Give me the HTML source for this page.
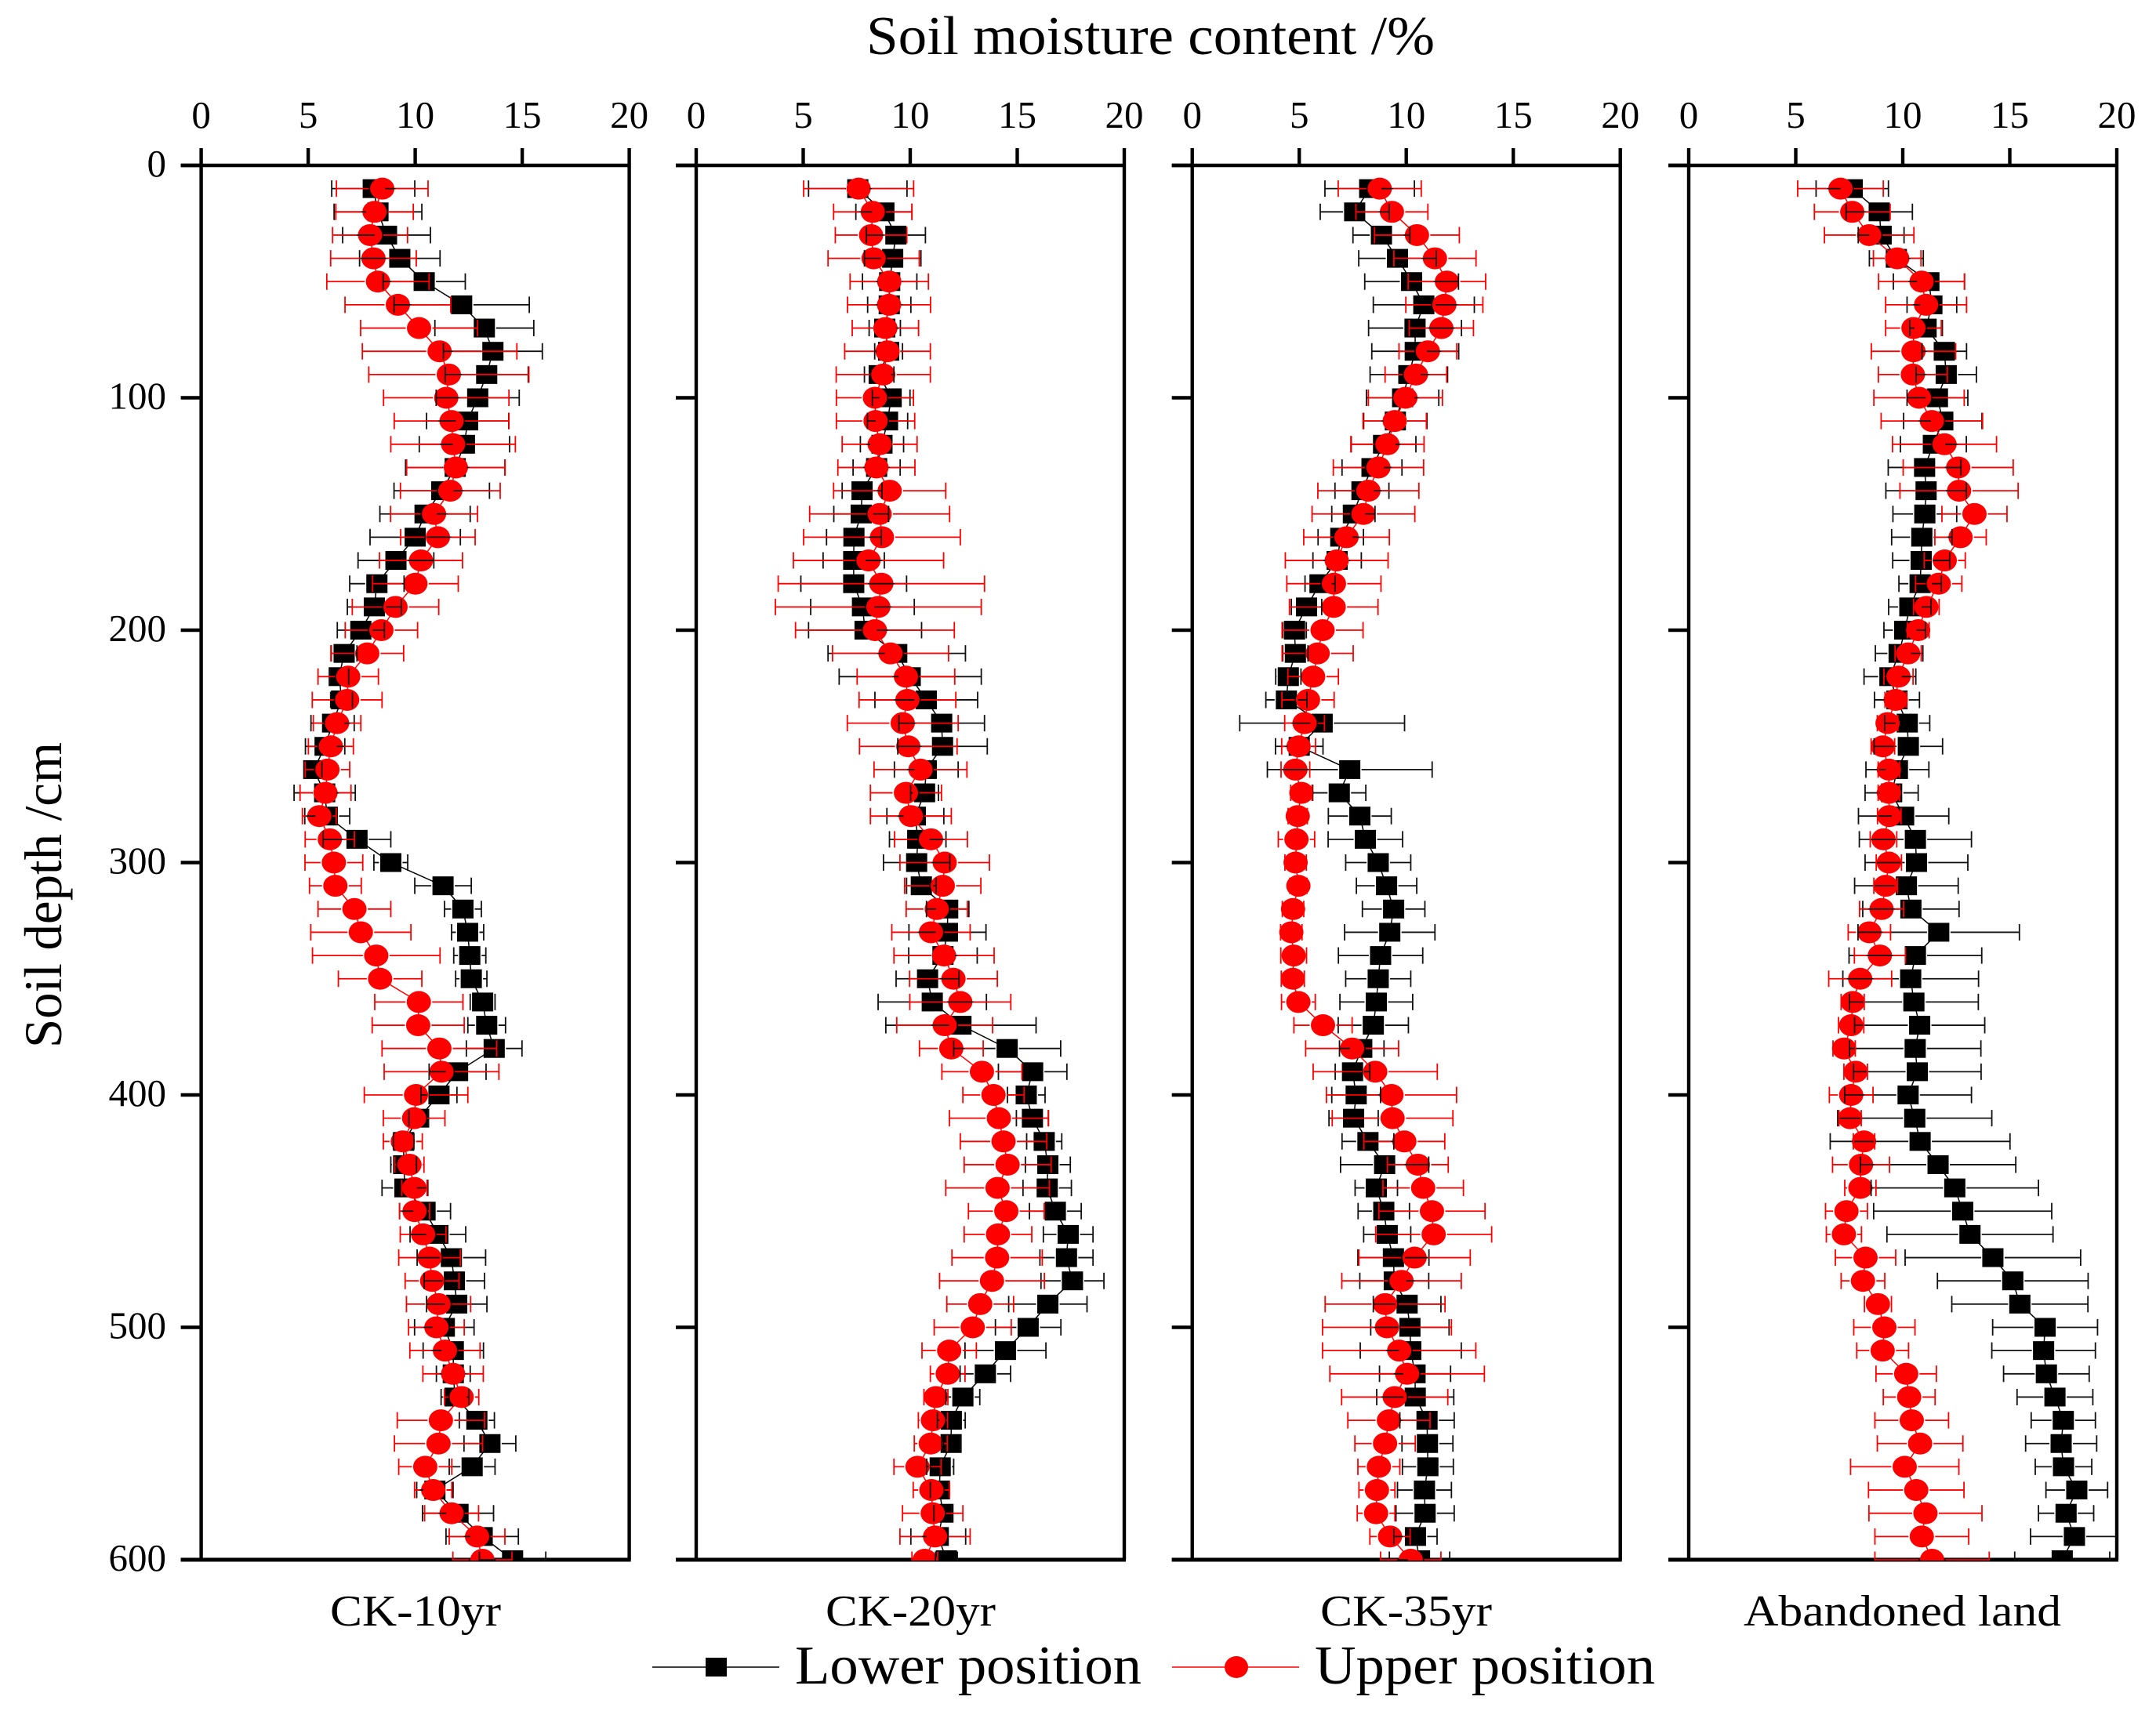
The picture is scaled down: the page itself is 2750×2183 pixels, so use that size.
<!DOCTYPE html>
<html lang="en">
<head>
<meta charset="utf-8">
<title>Soil moisture content by depth</title>
<style>
html,body{margin:0;padding:0;background:#fff;}
svg{display:block;}
text{font-family:"Liberation Serif",serif;fill:#000;}
</style>
</head>
<body>
<svg id="chart" xmlns="http://www.w3.org/2000/svg" width="2750" height="2183" viewBox="0 0 2750 2183">
<rect x="0" y="0" width="2750" height="2183" fill="#fff"/>
<text x="1105" y="69" font-size="70" textLength="725" lengthAdjust="spacingAndGlyphs">Soil moisture content /%</text>
<text transform="translate(78,1337) rotate(-90)" x="0" y="0" font-size="68" textLength="390" lengthAdjust="spacingAndGlyphs">Soil depth /cm</text>
<text x="421" y="2074" font-size="56" textLength="218" lengthAdjust="spacingAndGlyphs">CK-10yr</text>
<text x="1053" y="2074" font-size="56" textLength="217" lengthAdjust="spacingAndGlyphs">CK-20yr</text>
<text x="1684" y="2074" font-size="56" textLength="219" lengthAdjust="spacingAndGlyphs">CK-35yr</text>
<text x="2224" y="2074" font-size="56" textLength="405" lengthAdjust="spacingAndGlyphs">Abandoned land</text>
<g>
<g>
<line x1="832" y1="2127" x2="994" y2="2127" stroke="#000" stroke-width="1.6"/>
<rect x="900" y="2115" width="27" height="24" fill="#000"/>
<text x="1014" y="2148" font-size="70" textLength="442" lengthAdjust="spacingAndGlyphs">Lower position</text>
</g>
<g>
<line x1="1495" y1="2127" x2="1657" y2="2127" stroke="#f00" stroke-width="1.6"/>
<ellipse cx="1577" cy="2127" rx="15" ry="14" fill="#f00"/>
<text x="1677" y="2148" font-size="70" textLength="434" lengthAdjust="spacingAndGlyphs">Upper position</text>
</g>
</g>
<g id="plots"></g>
</svg>
<script>
const depths = [10,20,30,40,50,60,70,80,90,100,110,120,130,140,150,160,170,180,190,200,210,220,230,240,250,260,270,280,290,300,310,320,330,340,350,360,370,380,390,400,410,420,430,440,450,460,470,480,490,500,510,520,530,540,550,560,570,580,590,600];
const xTickLabels = [0,5,10,15,20];
const yTickLabels = [0,100,200,300,400,500,600];
const panelNames = ["ck-10yr","ck-20yr","ck-35yr","abandoned-land"];

const ck10LowerMean = [8.04,8.26,8.66,9.28,10.42,12.17,13.23,13.63,13.34,12.92,
12.45,12.30,11.87,11.24,10.46,10.00,9.10,8.21,8.09,7.46,
6.68,6.45,6.56,6.14,5.79,5.26,5.77,5.89,7.28,8.86,
11.30,12.23,12.45,12.55,12.62,13.15,13.34,13.69,11.98,11.11,
10.16,9.46,9.46,9.52,10.46,11.06,11.69,11.83,11.94,11.36,
11.78,11.78,11.86,12.88,13.49,12.66,10.92,12.00,13.13,14.55];
const ck10LowerSd = [1.94,2.05,2.05,1.88,1.92,3.16,2.31,2.31,1.94,1.94,
1.92,2.11,2.32,2.23,2.11,2.11,1.77,1.27,1.26,1.10,
0.60,0.44,0.51,1.01,0.92,0.38,1.43,1.05,1.58,0.79,
1.32,0.86,0.75,0.75,0.73,0.58,0.88,1.30,1.33,0.84,
0.45,0.48,0.60,1.07,1.19,1.30,1.60,1.41,1.41,1.39,
1.41,0.79,0.65,0.82,1.21,1.07,0.85,1.66,1.69,1.55];
const ck10UpperMean = [8.46,8.10,7.89,8.05,8.26,9.19,10.18,11.14,11.57,11.45,
11.70,11.77,11.90,11.64,10.88,11.06,10.27,10.01,9.08,8.42,
7.76,6.87,6.82,6.35,6.06,5.90,5.81,5.52,6.01,6.20,
6.27,7.16,7.46,8.18,8.36,10.17,10.14,11.13,11.23,10.04,
9.95,9.42,9.73,9.96,9.97,10.37,10.67,10.79,11.09,10.99,
11.39,11.77,12.17,11.20,11.09,10.47,10.84,11.70,12.89,13.14];
const ck10UpperSd = [2.14,1.81,1.75,2.00,2.39,2.47,2.73,3.61,3.74,2.93,
2.68,2.91,2.30,2.33,2.03,1.74,1.94,2.00,2.02,1.69,
1.70,1.41,1.63,1.11,1.05,1.04,1.19,0.79,1.15,1.35,
1.21,1.70,2.34,2.98,1.95,2.06,2.15,2.68,2.68,2.42,
1.44,0.91,0.68,0.59,0.70,1.07,1.44,1.26,1.50,1.30,
1.64,1.41,0.80,2.04,2.06,1.24,0.87,1.26,1.30,1.38];

const ck20LowerMean = [7.55,8.77,9.33,9.18,9.04,9.02,8.81,8.99,8.55,9.11,
8.94,8.68,8.43,7.75,7.71,7.37,7.36,7.36,7.77,7.89,
9.37,10.00,10.75,11.47,11.51,10.75,10.67,10.24,10.35,10.30,
10.52,11.75,11.74,11.53,10.81,11.03,12.37,14.53,15.72,15.42,
15.71,16.26,16.43,16.40,16.78,17.38,17.30,17.58,16.43,15.51,
14.45,13.51,12.46,11.92,11.91,11.40,11.36,11.53,11.31,11.69];
const ck20LowerSd = [2.30,1.31,1.38,1.32,1.27,1.01,0.73,0.65,0.69,0.88,
0.94,1.01,1.10,0.93,1.28,1.28,1.43,2.47,2.42,2.64,
3.21,3.32,2.40,2.00,2.09,1.49,0.65,1.33,1.32,1.55,
0.69,0.99,1.80,1.60,1.47,2.53,3.51,2.50,1.60,0.88,
0.75,0.82,1.05,1.13,1.21,1.16,1.24,1.47,1.83,1.53,
1.89,1.18,0.79,0.65,0.43,0.63,0.42,0.42,1.28,0.51];
const ck20UpperMean = [7.59,8.25,8.17,8.29,9.02,9.01,8.84,8.94,8.74,8.35,
8.38,8.57,8.42,9.04,8.57,8.68,8.05,8.65,8.51,8.35,
9.08,9.80,9.87,9.65,9.91,10.48,9.80,10.03,10.97,11.61,
11.52,11.24,10.97,11.58,12.02,12.34,11.61,11.92,13.35,13.89,
14.14,14.36,14.55,14.08,14.49,14.10,14.06,13.82,13.27,12.92,
11.82,11.75,11.20,11.06,10.96,10.34,10.99,11.05,11.16,10.68];
const ck20UpperSd = [2.57,1.83,1.67,2.13,1.83,1.94,1.55,2.00,2.20,1.80,
1.83,1.75,1.80,2.62,3.27,3.66,3.51,4.82,4.81,3.71,
2.71,2.28,2.26,2.59,2.28,2.17,1.66,1.89,1.70,2.09,
1.78,1.43,1.83,2.34,2.05,2.36,2.24,1.49,1.87,1.43,
2.31,2.02,2.03,2.42,1.77,1.58,2.11,2.45,1.56,1.80,
1.27,0.81,0.56,0.68,0.77,1.10,0.85,1.41,1.64,0.60];

const ck35LowerMean = [8.29,7.59,8.84,9.59,10.25,10.82,10.41,10.42,10.12,9.83,
9.49,8.94,8.40,7.93,7.53,6.94,6.77,5.97,5.34,4.78,
4.82,4.49,4.40,6.07,5.00,7.36,6.87,7.83,8.09,8.69,
9.08,9.41,9.23,8.80,8.69,8.60,8.46,7.92,7.49,7.66,
7.54,8.21,8.99,8.60,8.95,9.11,9.40,9.44,10.04,10.17,
10.21,10.41,10.42,10.97,10.99,11.01,10.85,10.88,10.43,10.62];
const ck35LowerSd = [2.09,1.61,1.33,1.81,2.19,2.36,2.17,2.03,1.81,1.69,
1.48,1.51,1.40,1.26,1.01,1.06,1.13,0.70,0.71,0.55,
0.59,0.59,0.96,3.85,1.11,3.85,1.24,1.47,1.74,1.52,
1.41,1.46,2.11,1.97,1.52,1.70,1.64,1.04,0.81,1.14,
1.15,1.21,2.06,0.99,1.20,1.10,1.66,1.61,1.58,1.83,
2.36,1.66,1.80,1.27,1.19,1.19,1.26,1.36,1.01,1.41];
const ck35UpperMean = [8.76,9.33,10.50,11.34,11.90,11.78,11.64,11.01,10.45,9.96,
9.46,9.12,8.70,8.23,8.00,7.21,6.75,6.62,6.61,6.09,
5.86,5.65,5.41,5.25,4.97,4.82,5.10,4.93,4.87,4.83,
4.96,4.71,4.63,4.74,4.70,4.96,6.11,7.47,8.55,9.31,
9.36,9.91,10.54,10.79,11.20,11.28,10.39,9.78,9.01,9.10,
9.67,10.04,9.46,9.19,9.01,8.72,8.63,8.59,9.24,10.21];
const ck35UpperSd = [1.94,1.68,1.98,1.92,1.81,1.80,1.50,1.35,1.44,1.73,
1.48,1.71,2.11,2.36,2.40,2.00,2.40,2.20,2.07,1.89,
1.66,1.18,1.22,0.93,0.79,0.67,0.50,0.45,0.85,0.50,
0.40,0.50,0.50,0.60,0.54,0.79,1.36,2.17,2.90,3.04,
2.82,1.89,1.42,1.88,2.48,2.71,2.60,2.79,2.80,3.01,
3.58,3.61,2.48,1.92,1.41,0.98,0.84,0.88,0.94,1.41];

const abandonedLowerMean = [7.64,8.90,8.99,9.70,11.22,11.36,11.09,11.94,12.03,11.62,
11.87,11.43,11.02,11.09,11.03,10.89,10.86,10.81,10.33,10.09,
9.83,9.40,9.73,10.21,10.26,9.75,9.48,10.04,10.59,10.64,
10.17,10.38,11.68,10.59,10.37,10.52,10.79,10.58,10.68,10.25,
10.56,10.81,11.65,12.43,12.80,13.14,14.21,15.14,15.47,16.65,
16.58,16.71,17.11,17.50,17.40,17.51,18.13,17.63,18.02,17.45];
const abandonedLowerSd = [1.69,1.55,1.07,1.26,1.66,1.16,0.76,1.04,1.41,1.42,
1.83,1.54,1.70,1.88,1.49,1.41,1.33,0.99,0.99,0.97,
1.11,1.21,1.05,1.05,1.60,1.47,1.24,2.11,2.62,2.40,
2.42,2.25,3.77,3.10,3.17,3.01,3.04,3.07,2.98,2.96,
3.60,4.20,3.63,3.91,4.16,3.88,4.10,3.52,3.18,2.45,
2.42,2.00,1.77,1.50,1.66,1.32,1.44,1.29,2.05,2.22];
const abandonedUpperMean = [7.09,7.64,8.43,9.74,10.88,11.09,10.50,10.50,10.47,10.76,
11.36,11.95,12.59,12.63,13.35,12.70,11.96,11.68,11.10,10.72,
10.25,9.80,9.67,9.29,9.07,9.35,9.35,9.37,9.10,9.35,
9.20,9.01,8.44,8.93,8.01,7.66,7.59,7.26,7.80,7.59,
7.54,8.19,8.05,8.02,7.37,7.25,8.26,8.14,8.84,9.14,
9.06,10.16,10.30,10.42,10.81,10.09,10.63,11.06,10.89,11.37];
const abandonedUpperSd = [2.00,1.77,2.09,1.11,2.01,1.89,1.30,1.97,1.61,2.11,
2.37,2.43,2.57,2.76,1.52,1.20,0.96,1.08,0.60,0.51,
0.61,0.68,0.50,0.48,0.55,0.50,0.50,0.55,0.62,0.59,
0.55,1.03,0.99,1.19,1.47,0.54,0.59,0.52,0.55,1.02,
0.52,0.50,1.33,0.73,0.98,0.82,1.41,1.02,0.63,1.43,
1.21,1.41,1.21,1.72,2.00,2.53,2.23,2.64,2.19,2.67];

const lowerMeans = [ck10LowerMean, ck20LowerMean, ck35LowerMean, abandonedLowerMean];
const lowerSds = [ck10LowerSd, ck20LowerSd, ck35LowerSd, abandonedLowerSd];
const upperMeans = [ck10UpperMean, ck20UpperMean, ck35UpperMean, abandonedUpperMean];
const upperSds = [ck10UpperSd, ck20UpperSd, ck35UpperSd, abandonedUpperSd];

const NS = "http://www.w3.org/2000/svg";
const plots = document.getElementById("plots");
const PANEL_LEFT = [256.6, 888, 1520.7, 2154];
const PANEL_WIDTH = 546;
const Y_TOP = 211;
const Y_BOTTOM = 1990;
const X_MAX = 20;
const Y_MAX = 600;

function xScale(panel, v) { return PANEL_LEFT[panel] + v / X_MAX * PANEL_WIDTH; }
function yScale(d) { return Y_TOP + d / Y_MAX * (Y_BOTTOM - Y_TOP); }

function make(parent, tag, attrs) {
  const el = document.createElementNS(NS, tag);
  for (const k in attrs) el.setAttribute(k, attrs[k]);
  parent.appendChild(el);
  return el;
}

const defs = make(plots, "defs", {});
PANEL_LEFT.forEach(function (left, p) {
  const cp = make(defs, "clipPath", { id: "clip-" + p });
  make(cp, "rect", { x: left - 30, y: Y_TOP, width: PANEL_WIDTH + 30, height: Y_BOTTOM - Y_TOP + 1 });
});

function drawAxes(group, p) {
  const left = PANEL_LEFT[p];
  const right = left + PANEL_WIDTH;
  const axisGroup = make(group, "g", { stroke: "#000", "stroke-width": 4.4 });
  
  
  const top = make(axisGroup, "line", { x1: left - 26, y1: Y_TOP, x2: right + 2, y2: Y_TOP });
  
  
  const bottom = make(axisGroup, "line", { x1: left - 26, y1: Y_BOTTOM, x2: right + 2, y2: Y_BOTTOM, "stroke-width": 5 });
  
  
  const leftLine = make(axisGroup, "line", { x1: left, y1: Y_TOP, x2: left, y2: Y_BOTTOM });
  
  
  const rightLine = make(axisGroup, "line", { x1: right, y1: Y_TOP, x2: right, y2: Y_BOTTOM });
  
  

  xTickLabels.forEach(function (t) {
    const x = xScale(p, t);
    const tick = make(axisGroup, "line", { x1: x, y1: Y_TOP - 22, x2: x, y2: Y_TOP });
    
    
    const label = make(group, "text", { x: x, y: 163, "font-size": 49, "text-anchor": "middle" });
    
    
    label.textContent = String(t);
  });
  yTickLabels.forEach(function (t) {
    const y = yScale(t);
    const tick = make(axisGroup, "line", { x1: left - 26, y1: y, x2: left, y2: y });
    
    
    if (p === 0) {
      const label = make(group, "text", { x: 212, y: y + 14, "font-size": 49, "text-anchor": "end" });
      
      
      label.textContent = String(t);
    }
  });
}

function drawConnector(group, p, means, color, name) {
  const pts = means.map(function (v, i) { return xScale(p, v).toFixed(1) + "," + yScale(depths[i]).toFixed(1); }).join(" ");
  const line = make(group, "polyline", { points: pts, fill: "none", stroke: color, "stroke-width": 1.5 });
  
  
}

function drawSquares(group, p, means) {
  means.forEach(function (v, i) {
    const m = make(group, "rect", { x: xScale(p, v) - 13.5, y: yScale(depths[i]) - 12, width: 27, height: 24, fill: "#000" });
    
    
  });
}

function drawCircles(group, p, means) {
  means.forEach(function (v, i) {
    const m = make(group, "ellipse", { cx: xScale(p, v), cy: yScale(depths[i]), rx: 15.5, ry: 14, fill: "#f00" });
    
    
  });
}

function drawErrorBars(group, p, means, sds, color, gap, name) {
  means.forEach(function (v, i) {
    const y = yScale(depths[i]);
    const cx = xScale(p, v);
    const lo = xScale(p, v - sds[i]);
    const hi = xScale(p, v + sds[i]);
    let d = "M" + lo + " " + (y - 10.5) + "V" + (y + 10.5) + "M" + hi + " " + (y - 10.5) + "V" + (y + 10.5);
    if (lo < cx - gap) d += "M" + lo + " " + y + "H" + (cx - gap);
    if (hi > cx + gap) d += "M" + (cx + gap) + " " + y + "H" + hi;
    const bar = make(group, "path", { d: d, fill: "none", stroke: color, "stroke-width": 1.8 });
    
    
  });
}

panelNames.forEach(function (panelName, p) {
  const panel = make(plots, "g", {});
  
  
  drawAxes(panel, p);
  const marks = make(panel, "g", { "clip-path": "url(#clip-" + p + ")" });
  
  
  drawConnector(marks, p, lowerMeans[p], "#000", "lower-position-line");
  drawSquares(marks, p, lowerMeans[p]);
  drawConnector(marks, p, upperMeans[p], "#f00", "upper-position-line");
  drawCircles(marks, p, upperMeans[p]);
  drawErrorBars(marks, p, lowerMeans[p], lowerSds[p], "#111", 15, "lower-position-error-bar");
  drawErrorBars(marks, p, upperMeans[p], upperSds[p], "#f00", 17, "upper-position-error-bar");
});
</script>
</body>
</html>
